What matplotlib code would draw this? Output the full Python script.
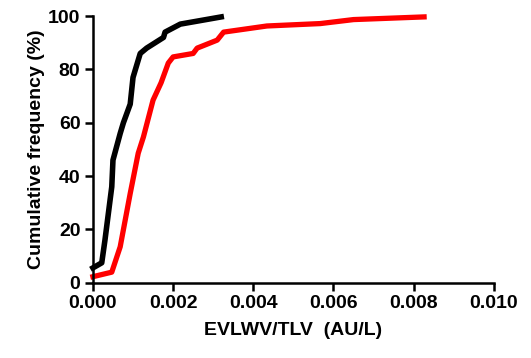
import matplotlib
matplotlib.use('Agg')
from matplotlib import pyplot as plt

# black curve
black_x = [0.0, 0.00022, 0.0003, 0.00047, 0.0005, 0.00068, 0.00076, 0.00093,
           0.001, 0.00118, 0.00134, 0.00176, 0.0018, 0.00218, 0.0032]
black_y = [5.6, 7.5, 16, 36, 46, 56, 60, 67, 77, 86, 88, 92, 94, 97, 99.7]

# red curve
red_x = [0.0, 0.00047, 0.00068, 0.00093, 0.00113, 0.00126, 0.0015, 0.0017,
         0.00188, 0.002, 0.0025, 0.0026, 0.0031, 0.00326, 0.00434, 0.00567,
         0.0065, 0.00826]
red_y = [2.3, 4, 13.5, 33.5, 48.6, 54.7, 68.5, 75, 82.4, 84.7, 86, 88, 91,
         94, 96.3, 97.2, 98.7, 99.7]

xticks = [0.000, 0.002, 0.004, 0.006, 0.008, 0.010]
yticks = [0, 20, 40, 60, 80, 100]

plt.rcParams['font.family'] = ['Liberation Sans', 'DejaVu Sans']
plt.rcParams['font.weight'] = 'bold'

fig = plt.figure(figsize=(5.31, 3.58), dpi=100)
ax = fig.add_axes([0.175, 0.21, 0.755, 0.745])

ax.plot(black_x, black_y, color='black', lw=4, solid_joinstyle='round', clip_on=False)
ax.plot(red_x, red_y, color='#ff0000', lw=3.8, solid_joinstyle='round', clip_on=False)

ax.set_xlim(0, 0.010)
ax.set_ylim(0, 100)
ax.set_xticks(xticks)
ax.set_xticklabels(['%.3f' % v for v in xticks])
ax.set_yticks(yticks)

for s in ['top', 'right']:
    ax.spines[s].set_visible(False)
for s in ['left', 'bottom']:
    ax.spines[s].set_linewidth(1.8)

ax.tick_params(direction='out', length=6, width=1.8, labelsize=14, pad=3)
for lab in ax.get_xticklabels() + ax.get_yticklabels():
    lab.set_fontweight('bold')

ax.set_xlabel('EVLWV/TLV  (AU/L)', fontsize=14, fontweight='bold', labelpad=7)
ax.set_ylabel('Cumulative frequency (%)', fontsize=14, fontweight='bold', labelpad=2)

fig.savefig('out.png', dpi=100)
